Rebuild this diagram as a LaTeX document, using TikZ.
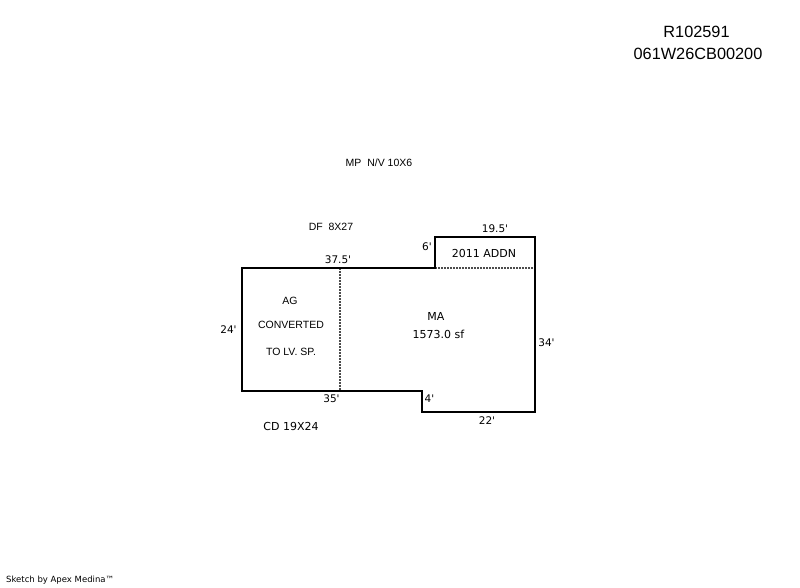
\documentclass[tikz,border=0pt]{standalone}
\usepackage{fontspec}
\setmainfont{Liberation Sans}
\newfontfamily\widefont{DejaVu Sans}
\tikzset{
  lbl/.style={inner sep=0pt,font=\fontsize{10.5pt}{12pt}\selectfont,text=black},
  wlbl/.style={inner sep=0pt,font=\widefont\fontsize{11pt}{12pt}\selectfont,text=black},
  dimlbl/.style={inner sep=0pt,font=\widefont\fontsize{10.5pt}{12pt}\selectfont,text=black},
  big/.style={inner sep=0pt,font=\fontsize{16.3pt}{17pt}\selectfont,text=black},
  wall/.style={draw=black,line width=2pt,line join=miter},
  div/.style={draw=black!70,line width=1.5pt,dash pattern=on 1.5pt off 1.5pt}
}
\begin{document}
\begin{tikzpicture}[x=1pt,y=-1pt]
\useasboundingbox[fill=white] (0,0) rectangle (800,587);
\draw[div] (340,268) -- (340,391);
\draw[div] (435,268) -- (535,268);
\draw[wall] (242,268) -- (435,268) -- (435,237) -- (535,237) -- (535,411.5) -- (422,411.5) -- (422,391) -- (242,391) -- cycle;
\node[big] (r1) at (696.5,32) {R102591};
\node[big] (r2) at (698,54) {061W26CB00200};
\node[lbl] (mp) at (379,163) {MP\ \ N/V 10X6};
\node[lbl] (df) at (331,227) {DF\ \ 8X27};
\node[dimlbl] at (495,229) {19.5'};
\node[dimlbl] at (427,247) {6'};
\node[wlbl] at (484,253) {2011 ADDN};
\node[dimlbl] at (338,260) {37.5'};
\node[lbl] at (290,301) {AG};
\node[lbl] at (291,325) {CONVERTED};
\node[lbl] at (291,352) {TO LV. SP.};
\node[dimlbl] at (228.5,330) {24'};
\node[wlbl] at (436,316) {MA};
\node[wlbl] at (438.5,334) {1573.0 sf};
\node[dimlbl] at (546.5,343) {34'};
\node[dimlbl] at (331.5,399) {35'};
\node[dimlbl] at (429.5,399) {4'};
\node[dimlbl] at (487,421) {22'};
\node[wlbl] at (291,426) {CD 19X24};
\node[inner sep=0pt,anchor=west,font=\widefont\fontsize{8.5pt}{9pt}\selectfont] at (6,580) {Sketch by Apex Medina™};
\end{tikzpicture}
\end{document}
